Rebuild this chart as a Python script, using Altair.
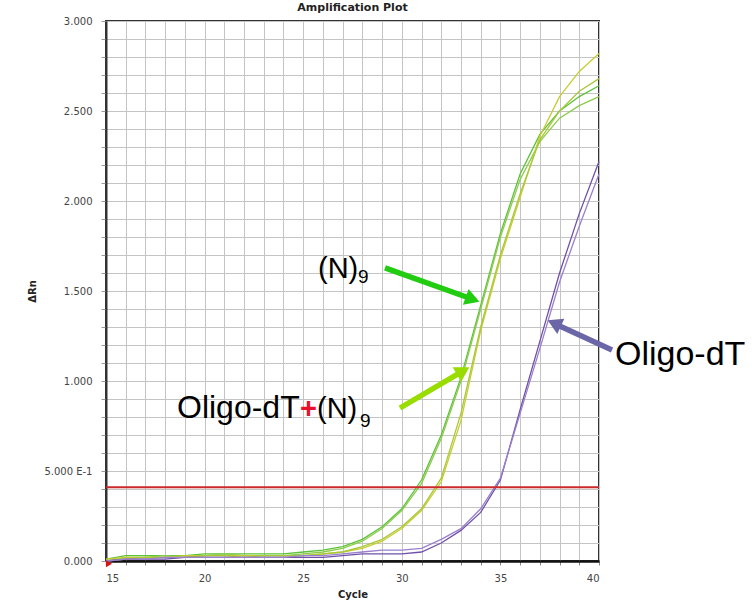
import altair as alt
import pandas as pd

# ---------------- data ----------------
cycles = list(range(15, 41))

n9_a = [0.01, 0.03, 0.03, 0.03, 0.03, 0.04, 0.04, 0.04, 0.04, 0.04, 0.05, 0.06, 0.08,
        0.12, 0.19, 0.29, 0.45, 0.70, 1.02, 1.42, 1.82, 2.15, 2.37, 2.50, 2.58, 2.64]
n9_b = [0.00, 0.02, 0.02, 0.03, 0.02, 0.03, 0.04, 0.03, 0.03, 0.03, 0.04, 0.05, 0.07,
        0.11, 0.18, 0.28, 0.43, 0.68, 1.00, 1.40, 1.80, 2.12, 2.33, 2.46, 2.53, 2.58]
mix_a = [0.01, 0.02, 0.02, 0.02, 0.03, 0.03, 0.03, 0.03, 0.03, 0.03, 0.03, 0.04, 0.05,
         0.07, 0.11, 0.18, 0.28, 0.44, 0.78, 1.28, 1.68, 2.02, 2.36, 2.58, 2.72, 2.82]
mix_b = [0.00, 0.01, 0.02, 0.02, 0.02, 0.03, 0.03, 0.02, 0.03, 0.03, 0.03, 0.04, 0.05,
         0.08, 0.12, 0.19, 0.29, 0.46, 0.82, 1.30, 1.70, 2.04, 2.34, 2.50, 2.61, 2.68]
dt_a = [0.00, 0.01, 0.01, 0.01, 0.02, 0.02, 0.02, 0.02, 0.02, 0.02, 0.02, 0.02, 0.03,
        0.04, 0.04, 0.04, 0.05, 0.10, 0.17, 0.27, 0.45, 0.84, 1.22, 1.60, 1.93, 2.22]
dt_b = [0.00, 0.01, 0.01, 0.02, 0.02, 0.02, 0.02, 0.02, 0.02, 0.02, 0.03, 0.03, 0.04,
        0.05, 0.06, 0.06, 0.07, 0.12, 0.18, 0.29, 0.46, 0.82, 1.18, 1.55, 1.86, 2.15]

series_names = ["(N)9 a", "(N)9 b", "Oligo-dT+(N)9 a", "Oligo-dT+(N)9 b", "Oligo-dT a", "Oligo-dT b"]
series_values = [n9_a, n9_b, mix_a, mix_b, dt_a, dt_b]
series_colors = ["#5cc23a", "#8ccc4a", "#c8cc30", "#a8c838", "#7050a8", "#9a80cc"]

threshold = [0.41]

y_ticks = [round(i * 0.1, 1) for i in range(0, 31)]
x_ticks = cycles

# annotation arrows (data coordinates)
arrow_x0 = [29.15, 29.91, 40.66]
arrow_y0 = [1.628, 0.850, 1.172]
arrow_x1 = [33.59, 33.11, 37.73]
arrow_y1 = [1.454, 1.056, 1.320]
arrow_angle = [19.7, 329.6, 204.8]
arrow_color = ["#22cc11", "#99dd00", "#6a66a8"]

# annotation texts
n9_text = ["(N)", "(N)"]
n9_x = [25.75, 25.70]
n9_y = [1.572, 0.794]
dt_text = ["Oligo-dT"]
dt_x = [18.60]
dt_y = [0.794]
dt2_text = ["Oligo-dT"]
dt2_x = [40.81]
dt2_y = [1.089]
sub_text = ["9", "9"]
sub_x = [27.78, 27.88]
sub_y = [1.545, 0.744]
plus_x = [24.84]
plus_y = [0.794]

# ---------------- tables ----------------
rows = []
for name, vals in zip(series_names, series_values):
    for c, v in zip(cycles, vals):
        rows.append({"cycle": c, "value": v, "series": name})
df = pd.DataFrame(rows)

arrows = pd.DataFrame({"x0": arrow_x0, "y0": arrow_y0, "x1": arrow_x1, "y1": arrow_y1,
                       "angle": arrow_angle, "color": arrow_color})
n9_df = pd.DataFrame({"x": n9_x, "y": n9_y, "t": n9_text})
dt_df = pd.DataFrame({"x": dt_x, "y": dt_y, "t": dt_text})
dt2_df = pd.DataFrame({"x": dt2_x, "y": dt2_y, "t": dt2_text})
subs = pd.DataFrame({"x": sub_x, "y": sub_y, "t": sub_text})
plus = pd.DataFrame({"x": plus_x, "y": plus_y, "t": ["+"]})
thr = pd.DataFrame({"y": threshold})
marker = pd.DataFrame({"x": [15.15], "y": [-0.015]})

xscale = alt.Scale(domain=[15, 40], nice=False, zero=False)
yscale = alt.Scale(domain=[0, 3], nice=False)

x_axis = alt.Axis(values=x_ticks, tickCount=100, format="d",
                  labelExpr="datum.value % 5 == 0 ? format(datum.value, 'd') : ''",
                  title="Cycle", grid=True, gridColor="#c4c4c4", gridWidth=1,
                  tickSize=4, tickColor="#888", domainColor="#111", domainWidth=2.5,
                  labelFont="DejaVu Sans", labelFontSize=10, labelColor="#444",
                  labelPadding=8, labelOverlap=False, titleFont="DejaVu Sans", titleFontSize=10,
                  titleFontWeight="bold", titleColor="#222", titlePadding=6)
y_axis = alt.Axis(values=y_ticks, tickCount=100,
                  labelExpr="datum.value == 0.5 ? '5.000 E-1' : (round(datum.value*10) % 5 == 0 ? format(datum.value, '.3f') : '')",
                  title="ΔRn", grid=True, gridColor="#c4c4c4", gridWidth=1,
                  tickSize=5, tickColor="#999", domainColor="#333", domainWidth=2,
                  labelFont="DejaVu Sans", labelFontSize=10, labelColor="#444",
                  labelPadding=9, labelOverlap=False, titleFont="DejaVu Sans", titleFontSize=10,
                  titleFontWeight="bold", titleColor="#222", titlePadding=6)

lines = alt.Chart(df).mark_line(strokeWidth=1.3).encode(
    x=alt.X("cycle:Q", scale=xscale, axis=x_axis),
    y=alt.Y("value:Q", scale=yscale, axis=y_axis),
    color=alt.Color("series:N", scale=alt.Scale(domain=series_names, range=series_colors), legend=None),
    detail="series:N",
)

thr_rule = alt.Chart(thr).mark_rule(color="#cc2a2a", strokeWidth=2).encode(y=alt.Y("y:Q", scale=yscale))

shafts = alt.Chart(arrows).mark_rule(strokeWidth=5.5).encode(
    x=alt.X("x0:Q", scale=xscale), y=alt.Y("y0:Q", scale=yscale),
    x2="x1:Q", y2="y1:Q", color=alt.Color("color:N", scale=None))
heads = alt.Chart(arrows).mark_point(shape="triangle-right", filled=True, size=280, opacity=1).encode(
    x=alt.X("x1:Q", scale=xscale), y=alt.Y("y1:Q", scale=yscale),
    angle=alt.Angle("angle:Q", scale=None), color=alt.Color("color:N", scale=None))


def txt(data, size, color="#000", weight="normal"):
    return alt.Chart(data).mark_text(font="Liberation Sans", fontSize=size, fontWeight=weight,
                                     align="left", baseline="alphabetic", color=color).encode(
        x=alt.X("x:Q", scale=xscale), y=alt.Y("y:Q", scale=yscale), text="t:N")


n9_txt = txt(n9_df, 29)
dt_txt = txt(dt_df, 32)
dt2_txt = txt(dt2_df, 34)
sub_txt = txt(subs, 19)
plus_txt = txt(plus, 29, "#e8102a", "bold")

red_marker = alt.Chart(marker).mark_point(shape="triangle-right", filled=True, size=50,
                                          color="#dd1111", opacity=1).encode(
    x=alt.X("x:Q", scale=xscale), y=alt.Y("y:Q", scale=yscale))

chart = alt.layer(lines, thr_rule, shafts, heads, n9_txt, dt_txt, dt2_txt, sub_txt, plus_txt,
                  red_marker).properties(
    width=493, height=540,
    title=alt.TitleParams("Amplification Plot", font="DejaVu Sans", fontSize=11,
                          fontWeight="bold", color="#222", offset=3),
    autosize=alt.AutoSizeParams(type="none"),
    padding={"left": 106, "top": 21, "right": 153, "bottom": 48},
    background="white",
).configure_view(stroke="#333", strokeWidth=2)

chart.save("out.html", embed_options={"renderer": "svg", "actions": False})
